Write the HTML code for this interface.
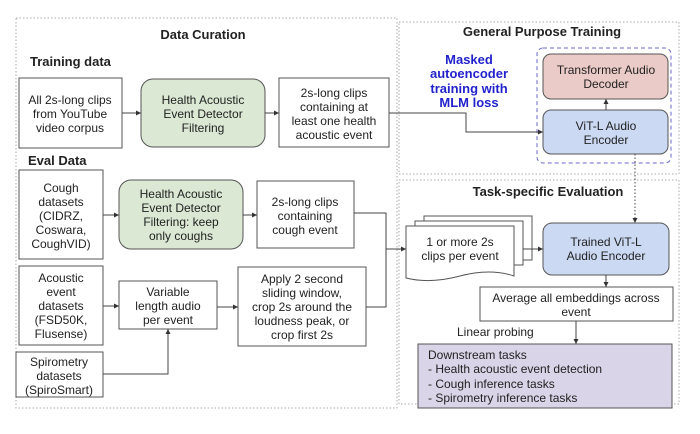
<!DOCTYPE html>
<html><head><meta charset="utf-8"><style>
body{margin:0;background:#fff;}
svg text{font-family:"Liberation Sans",sans-serif;fill:#222;}
</style></head><body>
<svg width="700" height="429" viewBox="0 0 700 429" xmlns="http://www.w3.org/2000/svg">
<defs><marker id="a" markerWidth="6" markerHeight="6" refX="5" refY="3" orient="auto"><path d="M0,0.5 L5,3 L0,5.5z" fill="#333"/></marker></defs>
<g fill="none" stroke="#aaa" stroke-dasharray="1.5,2">
<rect x="16" y="18" width="381" height="390"/>
<rect x="399" y="22" width="280" height="152"/>
<rect x="399" y="180" width="280" height="224"/>
</g>
<g font-size="13" font-weight="bold" text-anchor="middle">
<text x="203" y="39">Data Curation</text>
<text x="542" y="36">General Purpose Training</text>
<text x="548" y="196">Task-specific Evaluation</text>
</g>
<text x="30" y="66" font-size="13" font-weight="bold">Training data</text>
<text x="28" y="165" font-size="13" font-weight="bold">Eval Data</text>
<g stroke="#555" stroke-width="1">
<rect x="19" y="78" width="103" height="70" fill="#fff"/>
<rect x="141" y="79" width="124" height="68" rx="12" fill="#dbe8d4"/>
<rect x="279" y="78" width="110" height="69" fill="#fff"/>
<rect x="19" y="170" width="84" height="89" fill="#fff"/>
<rect x="119" y="180" width="124" height="69" rx="12" fill="#dbe8d4"/>
<rect x="257" y="181" width="97" height="67" fill="#fff"/>
<rect x="19" y="266" width="84" height="79" fill="#fff"/>
<rect x="119" y="281" width="98" height="48" fill="#fff"/>
<rect x="238" y="267" width="128" height="79" fill="#fff"/>
<rect x="16" y="352" width="87" height="45" fill="#fff"/>
<rect x="543" y="54" width="125" height="45" rx="8" fill="#ebcbc7"/>
<rect x="543" y="110" width="125" height="44" rx="8" fill="#cbd9f3"/>
<rect x="543" y="223" width="126" height="52" rx="9" fill="#cbd9f3"/>
<rect x="480" y="287" width="193" height="34" fill="#fff"/>
<rect x="418" y="344" width="254" height="64" fill="#d9d4e7"/>
<rect x="424" y="216" width="108" height="44" fill="#fff"/>
<rect x="415" y="221" width="108" height="44" fill="#fff"/>
<path d="M406,226 H514 V276 Q490,268 460,276 Q430,284 406,278 Z" fill="#fff"/>
</g>
<rect x="537" y="48" width="134" height="115" rx="6" fill="none" stroke="#6a6ac8" stroke-dasharray="4,3"/>
<g stroke="#444" fill="none" marker-end="url(#a)">
<path d="M122,113 H141"/>
<path d="M265,113 H279"/>
<path d="M389,113 H466 V132 H543"/>
<path d="M103,215 H119"/>
<path d="M243,215 H257"/>
<path d="M354,213 H386 V307 H366" marker-end="none"/>
<path d="M386,249 H406"/>
<path d="M103,306 H119"/>
<path d="M217,307 H238"/>
<path d="M103,374 H168 V329"/>
<path d="M606,110 V99"/>
<path d="M523,249 H543"/>
<path d="M606,275 V287"/>
<path d="M576,321 V344"/>
</g>
<path d="M635,154 V223" stroke="#444" stroke-dasharray="1.5,2" fill="none" marker-end="url(#a)"/>
<g font-size="12" text-anchor="middle">
<text x="70" y="104">All 2s-long clips</text><text x="70" y="118">from YouTube</text><text x="70" y="132">video corpus</text>
<text x="203" y="104">Health Acoustic</text><text x="203" y="118">Event Detector</text><text x="203" y="132">Filtering</text>
<text x="334" y="97">2s-long clips</text><text x="334" y="111">containing at</text><text x="334" y="125">least one health</text><text x="334" y="139">acoustic event</text>
<text x="61" y="192">Cough</text><text x="61" y="206">datasets</text><text x="61" y="220">(CIDRZ,</text><text x="61" y="234">Coswara,</text><text x="61" y="248">CoughVID)</text>
<text x="181" y="198">Health Acoustic</text><text x="181" y="212">Event Detector</text><text x="181" y="226">Filtering: keep</text><text x="181" y="240">only coughs</text>
<text x="305" y="206">2s-long clips</text><text x="305" y="220">containing</text><text x="305" y="234">cough event</text>
<text x="61" y="282">Acoustic</text><text x="61" y="296">event</text><text x="61" y="310">datasets</text><text x="61" y="324">(FSD50K,</text><text x="61" y="338">Flusense)</text>
<text x="168" y="296">Variable</text><text x="168" y="310">length audio</text><text x="168" y="324">per event</text>
<text x="302" y="283">Apply 2 second</text><text x="302" y="297">sliding window,</text><text x="302" y="311">crop 2s around the</text><text x="302" y="325">loudness peak, or</text><text x="302" y="339">crop first 2s</text>
<text x="59" y="366">Spirometry</text><text x="59" y="380">datasets</text><text x="59" y="394">(SpiroSmart)</text>
<text x="606" y="74">Transformer Audio</text><text x="606" y="88">Decoder</text>
<text x="606" y="130">ViT-L Audio</text><text x="606" y="144">Encoder</text>
<text x="606" y="246">Trained ViT-L</text><text x="606" y="260">Audio Encoder</text>
<text x="460" y="246">1 or more 2s</text><text x="460" y="260">clips per event</text>
<text x="576" y="302">Average all embeddings across</text><text x="576" y="316">event</text>
</g>
<g font-size="13" font-weight="bold" text-anchor="middle">
<text x="469" y="64" style="fill:#2222cc">Masked</text><text x="469" y="78" style="fill:#2222cc">autoencoder</text><text x="469" y="93" style="fill:#2222cc">training with</text><text x="469" y="107" style="fill:#2222cc">MLM loss</text>
</g>
<text x="457" y="336" font-size="12">Linear probing</text>
<g font-size="12">
<text x="428" y="359">Downstream tasks</text>
<text x="428" y="373">- Health acoustic event detection</text>
<text x="428" y="388">- Cough inference tasks</text>
<text x="428" y="402">- Spirometry inference tasks</text>
</g>
</svg>
</body></html>
